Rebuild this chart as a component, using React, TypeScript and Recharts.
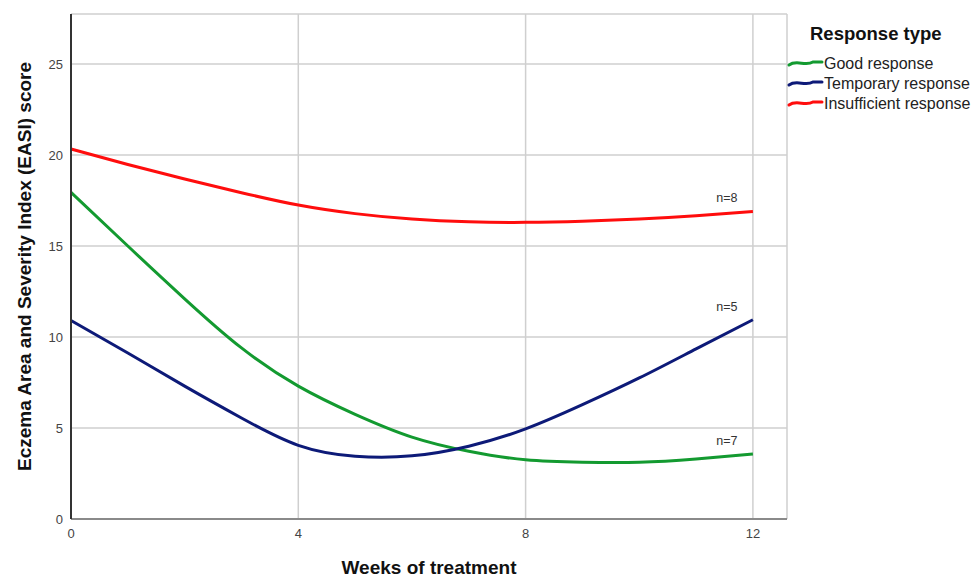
import {
  LineChart,
  Line,
  XAxis,
  YAxis,
  CartesianGrid,
  Legend,
  Label,
  LabelList,
} from "recharts";

// weeks of treatment (x values)
const weeks = [0, 1, 2, 3, 4, 5, 6, 7, 8, 9, 10, 11, 12];

// EASI score per response group
const goodResponse = [17.95, 15.0, 12.1, 9.4, 7.3, 5.75, 4.5, 3.72, 3.25, 3.12, 3.12, 3.3, 3.57];
const temporaryResponse = [10.91, 9.12, 7.3, 5.55, 4.05, 3.45, 3.47, 4.0, 4.95, 6.28, 7.75, 9.35, 10.95];
const insufficientResponse = [20.33, 19.48, 18.68, 17.93, 17.25, 16.78, 16.48, 16.33, 16.3, 16.36, 16.48, 16.66, 16.9];

const seriesNames = ["Good response", "Temporary response", "Insufficient response"];
const seriesKeys = ["good", "temporary", "insufficient"];
const seriesColors = ["#139a30", "#0d1a78", "#ff0d0d"];
const groupSizes = ["n=7", "n=5", "n=8"];

const xTicks = [0, 4, 8, 12];
const yTicks = [0, 5, 10, 15, 20, 25];

const data = weeks.map((w, i) => ({
  week: w,
  good: goodResponse[i],
  temporary: temporaryResponse[i],
  insufficient: insufficientResponse[i],
}));

const FONT = "'Liberation Sans', Arial, sans-serif";

// "n=.." text above the last point of each curve
function endLabel(text: string) {
  return (props: any) => {
    if (props.index !== weeks.length - 1) return null;
    return (
      <text
        x={props.x - 26}
        y={props.y - 13}
        textAnchor="middle"
        dominantBaseline="central"
        fontFamily={FONT}
        fontSize={12.5}
        fill="#333"
      >
        {text}
      </text>
    );
  };
}

// legend: bold title plus little squiggle icons, like the SPSS output
function ResponseLegend(props: any) {
  const payload = [...(props.payload || [])].sort(
    (a: any, b: any) => seriesNames.indexOf(a.value) - seriesNames.indexOf(b.value)
  );
  return (
    <svg width={186} height={110} style={{ display: "block", overflow: "visible" }}>
      <text x={25} y={26} fontFamily={FONT} fontSize={18.5} fontWeight="bold" fill="#111">
        Response type
      </text>
      {payload.map((entry: any, i: number) => {
        const cy = 49 + i * 20;
        return (
          <g key={entry.value}>
            <path
              d={`M4,${cy + 2} C12,${cy - 4} 20,${cy + 4} 28,${cy - 1} L37,${cy - 1}`}
              fill="none"
              stroke={entry.color}
              strokeWidth={3}
              strokeLinecap="round"
            />
            <text x={39} y={cy + 5.5} fontFamily={FONT} fontSize={16} fill="#222">
              {entry.value}
            </text>
          </g>
        );
      })}
    </svg>
  );
}

export default function App() {
  return (
    <div style={{ position: "absolute", left: 0, top: 0, background: "#fff" }}>
      <LineChart
        width={971}
        height={578}
        data={data}
        margin={{ top: 14, right: 184, bottom: 0, left: 31 }}
      >
        <CartesianGrid stroke="#cfcfcf" strokeWidth={1.5} />
        <XAxis
          dataKey="week"
          type="number"
          domain={[0, 12.6]}
          ticks={xTicks}
          height={59}
          tickLine={false}
          axisLine={{ stroke: "#8a8a8a", strokeWidth: 2 }}
          tick={{ fontFamily: FONT, fontSize: 13, fill: "#444" }}
          dy={2}
        >
          <Label
            value="Weeks of treatment"
            position="insideBottom"
            offset={4}
            style={{ fontFamily: FONT, fontSize: 19, fontWeight: "bold", fill: "#111" }}
          />
        </XAxis>
        <YAxis
          type="number"
          domain={[0, 27.75]}
          ticks={yTicks}
          width={40}
          tickLine={false}
          axisLine={{ stroke: "#333", strokeWidth: 2 }}
          tick={{ fontFamily: FONT, fontSize: 13, fill: "#444" }}
        >
          <Label
            content={(p: any) => {
              const vb = p.viewBox || { x: 31, y: 14, width: 40, height: 505 };
              const cx = 24;
              const cy = vb.y + vb.height / 2;
              return (
                <text
                  x={cx}
                  y={cy}
                  transform={`rotate(-90 ${cx} ${cy})`}
                  textAnchor="middle"
                  dominantBaseline="central"
                  fontFamily={FONT}
                  fontSize={19}
                  fontWeight="bold"
                  fill="#111"
                >
                  Eczema Area and Severity Index (EASI) score
                </text>
              );
            }}
          />
        </YAxis>
        <Legend
          layout="vertical"
          align="right"
          verticalAlign="top"
          content={<ResponseLegend />}
          wrapperStyle={{
            position: "absolute",
            left: 785,
            top: 14,
            width: 0,
            height: 0,
            overflow: "visible",
          }}
        />
        {seriesKeys.map((key, i) => (
          <Line
            key={key}
            type="natural"
            dataKey={key}
            name={seriesNames[i]}
            stroke={seriesColors[i]}
            strokeWidth={3}
            dot={false}
            activeDot={false}
            isAnimationActive={false}
          >
            <LabelList dataKey={key} content={endLabel(groupSizes[i])} />
          </Line>
        ))}
      </LineChart>
    </div>
  );
}
